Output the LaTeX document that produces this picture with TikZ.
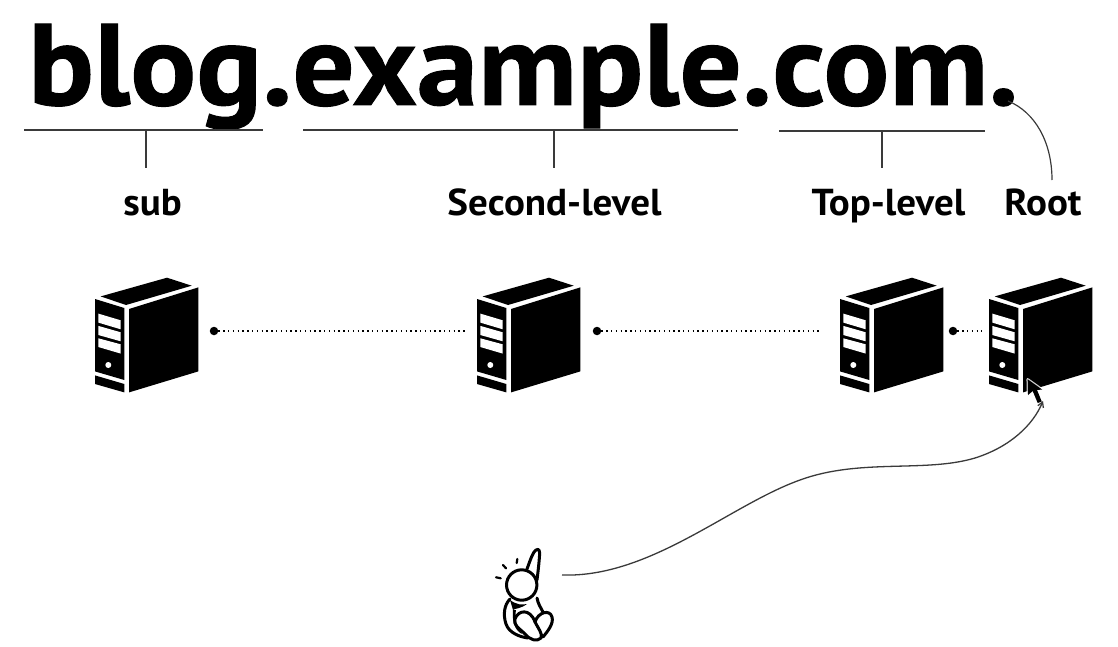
\documentclass[tikz,border=0pt]{standalone}
\usepackage{fontspec}
\setmainfont[FakeStretch=1.04]{PT Sans}
\newfontfamily\titleface[FakeBold=0.8,FakeStretch=1.06]{PT Sans}
\usetikzlibrary{arrows.meta}
\definecolor{linegray}{HTML}{3A3A3A}
\tikzset{
  x=1pt,y=-1pt,
  rule/.style={draw=linegray,line width=1.2pt},
  link/.style={draw=black,line width=1.4pt,dash pattern=on 1.3pt off 3.5pt},
  enddot/.style={circle,fill=black,draw=none,inner sep=0pt,minimum size=8.5pt},
  heading/.style={font=\titleface\bfseries\fontsize{116}{116}\selectfont,inner sep=0pt,anchor=base west},
  levellabel/.style={font=\bfseries\fontsize{37.5}{37.5}\selectfont,inner sep=0pt,anchor=base},
  stroke/.style={draw=black,line width=3pt,line cap=round,line join=round},
  serverbox/.pic={
    \fill (5.7,-2.6) -- (72,-21.3) -- (96.7,-13.3) -- (31,6) -- cycle;
    \fill (0,0) -- (29.3,9) -- (29.3,81) -- (0,72.4) -- cycle;
    \fill (0,76.4) -- (29.3,85) -- (29.3,93.4) -- (0,85) -- cycle;
    \fill (34,10) -- (103.3,-11.6) -- (103.3,72.4) -- (34,93.4) -- cycle;
    \fill[white] (3.3,14.6) -- (25.7,21.3) -- (25.7,30.3) -- (3.3,23.6) -- cycle;
    \fill[white] (3.3,26.9) -- (25.7,33.3) -- (25.7,42.3) -- (3.3,36) -- cycle;
    \fill[white] (3.3,39.3) -- (25.7,45.3) -- (25.7,54.6) -- (3.3,48) -- cycle;
    \fill[white] (13.3,66) circle (3pt);
  }
}
\begin{document}
\begin{tikzpicture}
\useasboundingbox (0,0) rectangle (1118,647);
\node[heading] (title) at (28,105) {blog.example.com.};

\coordinate (u1a) at (24,130); \coordinate (u1b) at (263,130);
\coordinate (u2a) at (303,130); \coordinate (u2b) at (738,130);
\coordinate (u3a) at (779,131); \coordinate (u3b) at (985,131);
\coordinate (t1a) at (146,130); \coordinate (t1b) at (146,168);
\coordinate (t2a) at (554,130); \coordinate (t2b) at (554,168);
\coordinate (t3a) at (882,131); \coordinate (t3b) at (882,168);
\path[rule] (u1a) -- (u1b) (u2a) -- (u2b) (u3a) -- (u3b);
\path[rule] (t1a) -- (t1b) (t2a) -- (t2b) (t3a) -- (t3b);

\coordinate (rootdot) at (1008,101);
\coordinate (rootend) at (1052,180);
\path[rule] (rootdot) .. controls (1035,112) and (1052,142) .. (rootend);

\node[levellabel] (lsub) at (152.5,215) {sub};
\node[levellabel] (lsecond) at (554.5,215) {Second-level};
\node[levellabel] (ltop) at (888.5,215) {Top-level};
\node[levellabel] (lroot) at (1043,215) {Root};

\pic at (95,299) {serverbox};
\pic at (477,299) {serverbox};
\pic at (840,299) {serverbox};
\pic at (989,299) {serverbox};

\node[enddot] (d1) at (214,331) {};
\coordinate (e1) at (465,331);
\node[enddot] (d2) at (597,331) {};
\coordinate (e2) at (822,331);
\node[enddot] (d3) at (953,331) {};
\coordinate (e3) at (982,331);
\path[link] (d1) -- (e1);
\path[link] (d2) -- (e2);
\path[link] (d3) -- (e3);

% person
\coordinate (hand) at (562,575);
\draw[stroke] (521.7,585) circle (15.2pt);
\draw[stroke] (527,569) .. controls (531,558) and (533,552) .. (536,550)
   .. controls (539,548) and (540,551) .. (539.5,556) .. controls (539,563) and (538,572) .. (537,580);
\draw[stroke,line width=2.2pt] (496,577.3) -- (500.7,578.3) (503,565) -- (506,568.3) (517.3,559) -- (516.7,563);
\draw[stroke] (510,599) .. controls (504,605) and (503,615) .. (506,624) .. controls (509,633) and (520,637) .. (528,638);
\draw[stroke] (537,598) .. controls (538,604) and (541,608) .. (543,612);
\draw[stroke] (535,622) .. controls (538,612) and (550,609) .. (552,617) .. controls (554,624) and (547,632) .. (543,637);
\draw[stroke] (515,619) .. controls (518,610) and (530,608) .. (535,622) .. controls (538,628) and (543,634) .. (541,638) .. controls (537,642) and (530,640) .. (525,634) .. controls (519,628) and (513,625) .. (515,619);
\fill (510,600) .. controls (517,605) and (522,605) .. (527,604) .. controls (520,609) and (516,608) .. (513,610) -- cycle;
\fill (513,610) .. controls (512,620) and (514,630) .. (522,634) .. controls (515,625) and (515,615) .. (516,610) -- cycle;

% cursor
\coordinate (tip) at (1027.7,379.3);
\path[draw=white,opacity=.8,line width=2.5pt,fill=black,line join=round] (tip) -- (1028,395) -- (1032.7,391) -- (1037.7,403) -- (1041.7,401.5) -- (1037,390) -- (1042,389.5) -- cycle;
\fill (tip) -- (1028,395) -- (1032.7,391) -- (1037.7,403) -- (1041.7,401.5) -- (1037,390) -- (1042,389.5) -- cycle;

\coordinate (arrowend) at (1043,401);
\path[draw=linegray,line width=1.3pt,-{Straight Barb[length=5pt,width=6pt]}] (hand) .. controls (650,578) and (730,505) .. (800,480) .. controls (860,458) and (925,473) .. (975,458) .. controls (1010,447) and (1033,425) .. (arrowend);
\end{tikzpicture}
\end{document}
